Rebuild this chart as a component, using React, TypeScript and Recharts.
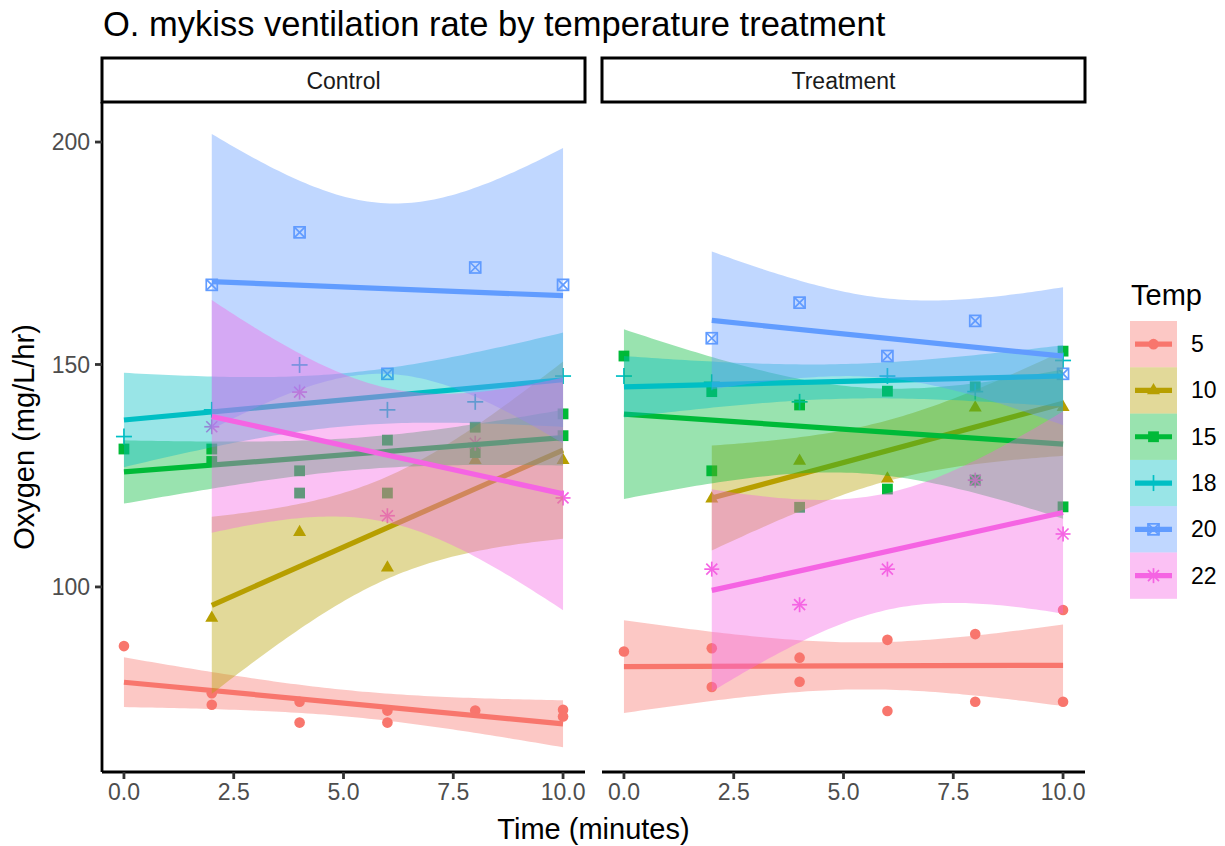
import React from 'react';
import { ComposedChart, Scatter, Line, Area, XAxis, YAxis } from 'recharts';

const FONT = '"Liberation Sans", Arial, Helvetica, sans-serif';

const TEMPS = ['5', '10', '15', '18', '20', '22'];
const TEMP_COLORS = ['#F8766D', '#B79F00', '#00BA38', '#00BFC4', '#619CFF', '#F564E3'];
const FACETS = ['Control', 'Treatment'];
const X_TICKS = [0, 2.5, 5, 7.5, 10];
const Y_TICKS = [100, 150, 200];
const X_DOMAIN: [number, number] = [-0.5, 10.5];
const Y_DOMAIN: [number, number] = [58.4, 209];

// [time, oxygen]
const CONTROL_5 = [[0, 86.7], [2, 76.1], [2, 73.5], [4, 74.2], [4, 69.5], [6, 72.2], [6, 69.5], [8, 72.2], [10, 72.4], [10, 70.9]];
const CONTROL_10 = [[2, 93.0], [4, 112.3], [6, 104.3], [8, 128.5], [10, 128.5]];
const CONTROL_15 = [[0, 131.0], [2, 131.0], [2, 128.2], [4, 126.1], [4, 121.1], [6, 133.0], [6, 121.1], [8, 135.9], [8, 130.2], [10, 138.9], [10, 134.0]];
const CONTROL_18 = [[0, 133.8], [2, 139.8], [4, 149.9], [6, 139.8], [8, 141.6], [10, 147.4]];
const CONTROL_20 = [[2, 167.9], [4, 179.7], [6, 147.9], [8, 171.8], [10, 167.9]];
const CONTROL_22 = [[2, 136.0], [4, 143.8], [6, 116.0], [8, 132.3], [10, 120.0]];

const TREAT_5 = [[0, 85.5], [2, 86.2], [2, 77.5], [4, 84.1], [4, 78.7], [6, 88.1], [6, 72.1], [8, 89.4], [8, 74.2], [10, 94.8], [10, 74.2]];
const TREAT_10 = [[2, 119.8], [4, 128.3], [6, 124.3], [8, 140.3], [10, 140.4]];
const TREAT_15 = [[0, 151.9], [2, 143.9], [2, 126.1], [4, 140.9], [4, 117.9], [6, 144.0], [6, 122.0], [8, 145.0], [8, 124.0], [10, 153.0], [10, 118.0]];
const TREAT_18 = [[0, 147.4], [2, 146.0], [4, 141.6], [6, 147.4], [8, 143.9], [10, 150.9]];
const TREAT_20 = [[2, 155.9], [4, 163.9], [6, 151.9], [8, 159.8], [10, 147.9]];
const TREAT_22 = [[2, 104.0], [4, 96.0], [6, 104.0], [8, 124.0], [10, 111.9]];

const CONTROL = [CONTROL_5, CONTROL_10, CONTROL_15, CONTROL_18, CONTROL_20, CONTROL_22];
const TREATMENT = [TREAT_5, TREAT_10, TREAT_15, TREAT_18, TREAT_20, TREAT_22];

// 97.5% t quantiles for the 95% confidence band (geom_smooth, method = "lm")
const T_975: Record<number, number> = {
  1: 12.706, 2: 4.303, 3: 3.182, 4: 2.776, 5: 2.571, 6: 2.447,
  7: 2.365, 8: 2.306, 9: 2.262, 10: 2.228, 11: 2.201, 12: 2.179,
};

// linear fit + confidence band, like stat_smooth
function smooth(arr: number[][]) {
  const n = arr.length;
  const xs = arr.map((p) => p[0]);
  const ys = arr.map((p) => p[1]);
  const xbar = xs.reduce((a, b) => a + b, 0) / n;
  const ybar = ys.reduce((a, b) => a + b, 0) / n;
  let sxx = 0;
  let sxy = 0;
  xs.forEach((x, i) => {
    sxx += (x - xbar) * (x - xbar);
    sxy += (x - xbar) * (ys[i] - ybar);
  });
  const b = sxy / sxx;
  const a = ybar - b * xbar;
  let sse = 0;
  xs.forEach((x, i) => {
    const r = ys[i] - (a + b * x);
    sse += r * r;
  });
  const s = Math.sqrt(sse / (n - 2));
  const t = T_975[n - 2];
  const xmin = Math.min(...xs);
  const xmax = Math.max(...xs);
  const band = [];
  for (let i = 0; i < 80; i++) {
    const x = xmin + ((xmax - xmin) * i) / 79;
    const fit = a + b * x;
    const se = s * Math.sqrt(1 / n + ((x - xbar) * (x - xbar)) / sxx);
    band.push({ x, ci: [fit - t * se, fit + t * se] });
  }
  return {
    points: arr.map(([x, y]) => ({ x, y })),
    band,
    line: [{ x: xmin, y: a + b * xmin }, { x: xmax, y: a + b * xmax }],
  };
}

const PointShape = ({ cx, cy, idx }: any) => {
  const c = TEMP_COLORS[idx];
  if (cx == null || cy == null) return null;
  switch (idx) {
    case 0:
      return <circle cx={cx} cy={cy} r={5.3} fill={c} />;
    case 1: {
      const s = 13;
      const h = s * 0.866;
      return (
        <polygon
          points={`${cx},${cy - (2 * h) / 3} ${cx - s / 2},${cy + h / 3} ${cx + s / 2},${cy + h / 3}`}
          fill={c}
        />
      );
    }
    case 2:
      return <rect x={cx - 5.4} y={cy - 5.4} width={10.8} height={10.8} fill={c} />;
    case 3:
      return (
        <g stroke={c} strokeWidth={1.7}>
          <line x1={cx - 8} y1={cy} x2={cx + 8} y2={cy} />
          <line x1={cx} y1={cy - 8} x2={cx} y2={cy + 8} />
        </g>
      );
    case 4:
      return (
        <g stroke={c} strokeWidth={1.7} fill="none">
          <rect x={cx - 5.5} y={cy - 5.5} width={11} height={11} />
          <line x1={cx - 5.5} y1={cy - 5.5} x2={cx + 5.5} y2={cy + 5.5} />
          <line x1={cx - 5.5} y1={cy + 5.5} x2={cx + 5.5} y2={cy - 5.5} />
        </g>
      );
    default:
      return (
        <g stroke={c} strokeWidth={1.7}>
          <line x1={cx - 7.5} y1={cy} x2={cx + 7.5} y2={cy} />
          <line x1={cx} y1={cy - 7.5} x2={cx} y2={cy + 7.5} />
          <line x1={cx - 5.5} y1={cy - 5.5} x2={cx + 5.5} y2={cy + 5.5} />
          <line x1={cx - 5.5} y1={cy + 5.5} x2={cx + 5.5} y2={cy - 5.5} />
        </g>
      );
  }
};

const Panel = ({ data, showY, left, width, marginLeft }: any) => {
  const groups = data.map(smooth);
  return (
    <div style={{ position: 'absolute', left, top: 0 }}>
      <ComposedChart
        width={width}
        height={846}
        margin={{ top: 102, right: 5, bottom: 0, left: marginLeft }}
      >
        <XAxis
          type="number"
          dataKey="x"
          domain={X_DOMAIN}
          ticks={X_TICKS}
          allowDataOverflow
          height={74}
          tickFormatter={(v: number) => v.toFixed(1)}
          axisLine={{ stroke: '#000', strokeWidth: 2.8 }}
          tickLine={{ stroke: '#333', strokeWidth: 2.8 }}
          tickSize={7}
          tickMargin={5}
          tick={{ fill: '#4D4D4D', fontSize: 23, fontFamily: FONT }}
        />
        <YAxis
          type="number"
          domain={Y_DOMAIN}
          ticks={Y_TICKS}
          allowDataOverflow
          hide={!showY}
          width={102}
          axisLine={{ stroke: '#000', strokeWidth: 2.8 }}
          tickLine={{ stroke: '#333', strokeWidth: 2.8 }}
          tickSize={7}
          tickMargin={5}
          tick={{ fill: '#4D4D4D', fontSize: 23, fontFamily: FONT }}
        />
        {groups.map((g: any, i: number) => (
          <Scatter
            key={'p' + i}
            name={TEMPS[i]}
            data={g.points}
            dataKey="y"
            zIndex={101}
            isAnimationActive={false}
            shape={(p: any) => <PointShape cx={p.cx} cy={p.cy} idx={i} />}
          />
        ))}
        {groups.flatMap((g: any, i: number) => [
          <Area
            key={'a' + i}
            data={g.band}
            dataKey="ci"
            type="linear"
            stroke="none"
            fill={TEMP_COLORS[i]}
            fillOpacity={0.4}
            dot={false}
            activeDot={false}
            zIndex={110 + 2 * i}
            isAnimationActive={false}
          />,
          <Line
            key={'l' + i}
            data={g.line}
            dataKey="y"
            type="linear"
            stroke={TEMP_COLORS[i]}
            strokeWidth={5.2}
            dot={false}
            activeDot={false}
            zIndex={111 + 2 * i}
            isAnimationActive={false}
          />,
        ])}
      </ComposedChart>
    </div>
  );
};

const PANEL_X = [[102, 585], [602, 1085]];

export default function App() {
  return (
    <div
      style={{
        position: 'absolute',
        left: 0,
        top: 0,
        width: 1225,
        height: 846,
        background: '#fff',
        fontFamily: FONT,
      }}
    >
      <svg width={1225} height={846} style={{ position: 'absolute', left: 0, top: 0 }}>
        <text x={103} y={36} fontSize={34.5} fill="#000" fontFamily={FONT}>
          O. mykiss ventilation rate by temperature treatment
        </text>
        {FACETS.map((f, i) => (
          <g key={f}>
            <rect
              x={PANEL_X[i][0]}
              y={58}
              width={PANEL_X[i][1] - PANEL_X[i][0]}
              height={44}
              fill="#fff"
              stroke="#000"
              strokeWidth={3}
            />
            <text
              x={(PANEL_X[i][0] + PANEL_X[i][1]) / 2}
              y={81}
              fontSize={23}
              fill="#1A1A1A"
              textAnchor="middle"
              dominantBaseline="central"
              fontFamily={FONT}
            >
              {f}
            </text>
          </g>
        ))}
        <text
          x={593.5}
          y={829}
          fontSize={29}
          textAnchor="middle"
          dominantBaseline="central"
          fill="#000"
          fontFamily={FONT}
        >
          Time (minutes)
        </text>
        <text
          x={24}
          y={437}
          fontSize={29}
          textAnchor="middle"
          dominantBaseline="central"
          fill="#000"
          fontFamily={FONT}
          transform="rotate(-90 24 437)"
        >
          Oxygen (mg/L/hr)
        </text>
        <text x={1131} y={305} fontSize={29} fill="#000" fontFamily={FONT}>
          Temp
        </text>
        {TEMPS.map((t, i) => {
          const top = 321 + i * 46.3;
          const cy = top + 23.15;
          return (
            <g key={t}>
              <rect x={1130} y={top} width={47} height={46.3} fill={TEMP_COLORS[i]} fillOpacity={0.4} />
              <line x1={1135} y1={cy} x2={1172} y2={cy} stroke={TEMP_COLORS[i]} strokeWidth={5.2} />
              <PointShape cx={1153.5} cy={cy} idx={i} />
              <text
                x={1191}
                y={cy}
                fontSize={23}
                dominantBaseline="central"
                fill="#000"
                fontFamily={FONT}
              >
                {t}
              </text>
            </g>
          );
        })}
      </svg>
      <Panel data={CONTROL} showY left={0} width={590} marginLeft={0} />
      <Panel data={TREATMENT} showY={false} left={597} width={493} marginLeft={5} />
    </div>
  );
}
